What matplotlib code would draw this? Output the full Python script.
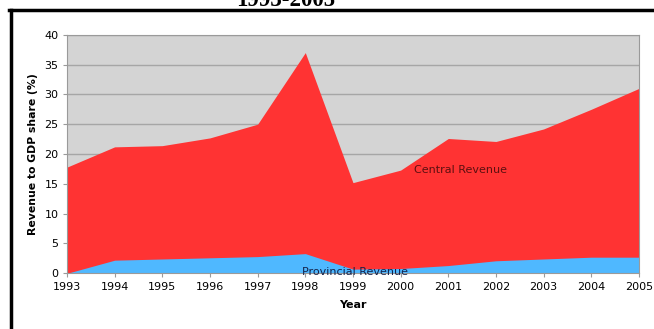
import matplotlib
matplotlib.use('Agg')
from matplotlib import pyplot as plt
from matplotlib.lines import Line2D

# data
years = [1993, 1994, 1995, 1996, 1997, 1998, 1999, 2000, 2001, 2002, 2003, 2004, 2005]
central = [17.8, 21.2, 21.4, 22.7, 25.0, 37.0, 15.2, 17.3, 22.6, 22.1, 24.2, 27.5, 31.0]
provincial = [0.0, 2.2, 2.4, 2.6, 2.8, 3.3, 0.7, 0.8, 1.3, 2.1, 2.4, 2.7, 2.7]
y_ticks = [0, 5, 10, 15, 20, 25, 30, 35, 40]

fig = plt.figure(figsize=(6.54, 3.29), dpi=100)
ax = fig.add_axes([0.1024, 0.1693, 0.8746, 0.7252])

ax.set_facecolor('#d4d4d4')
ax.fill_between(years, 0, central, color='#ff3333', lw=0, zorder=2)
ax.fill_between(years, 0, provincial, color='#4fb8ff', lw=0, zorder=3)

ax.set_xlim(1993, 2005)
ax.set_ylim(0, 40)
ax.set_xticks(years)
ax.set_yticks(y_ticks)
ax.grid(axis='y', color='#a6a6a6', lw=1, zorder=1)
ax.set_axisbelow(True)

for side in ['left', 'bottom', 'top', 'right']:
    ax.spines[side].set_color('#9a9a9a')
    ax.spines[side].set_zorder(5)
ax.tick_params(length=3, width=0.8, color='#9a9a9a', labelsize=8, pad=3)

ax.set_xlabel('Year', fontsize=8, fontweight='bold', labelpad=6)
ax.set_ylabel('Revenue to GDP share (%)', fontsize=7.8, fontweight='bold', labelpad=5)

ax.text(2000.28, 17.3, 'Central Revenue', fontsize=8, color='#5c1010', va='center', zorder=6)
ax.text(1997.93, 0.25, 'Provincial Revenue', fontsize=8, color='#14224a', va='center',
        zorder=6, clip_on=False)

# title cut off at the top edge, as in the source screenshot, plus its black frame
fig.text(0.437, 1 - 6 / 329, '1993-2005', fontsize=16.5, fontweight='bold',
         family='Liberation Serif', ha='center', va='baseline')
fig.add_artist(Line2D([10.5 / 654, 10.5 / 654], [0, 1 - 9.5 / 329], color='black', lw=2.5))
fig.add_artist(Line2D([9 / 654, 1], [1 - 9.5 / 329, 1 - 9.5 / 329], color='black', lw=2.5))

fig.savefig('out.png', dpi=100)
